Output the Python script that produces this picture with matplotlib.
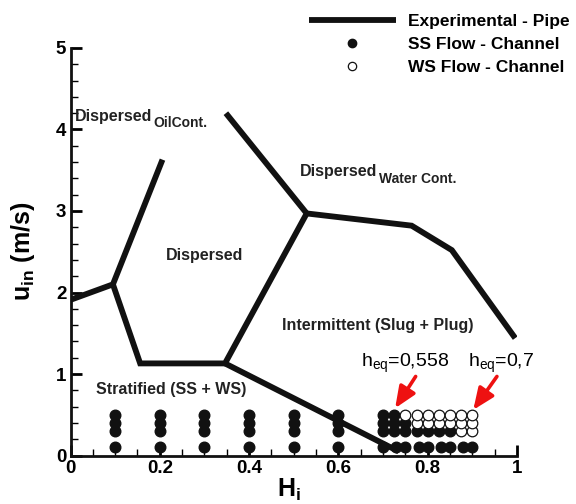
import matplotlib
matplotlib.use("Agg")
import matplotlib.pyplot as plt
from matplotlib.ticker import MultipleLocator

plt.rcParams['font.family'] = ['Liberation Sans', 'DejaVu Sans']
plt.rcParams['mathtext.fontset'] = 'custom'
plt.rcParams['mathtext.rm'] = 'Liberation Sans'
plt.rcParams['mathtext.bf'] = 'Liberation Sans:bold'
plt.rcParams['mathtext.it'] = 'Liberation Sans:italic'

# transition boundaries observed in the pipe
pipe_a_x = [0.0, 0.095, 0.206]
pipe_a_y = [1.91, 2.10, 3.63]
pipe_b_x = [0.095, 0.156, 0.346, 0.529, 0.348]
pipe_b_y = [2.10, 1.13, 1.13, 2.97, 4.20]
pipe_c_x = [0.529, 0.764, 0.854, 0.996]
pipe_c_y = [2.97, 2.82, 2.52, 1.44]
pipe_d_x = [0.346, 0.735]
pipe_d_y = [1.13, 0.05]

# channel runs: low water cut columns
low_h = [0.1, 0.2, 0.3, 0.4, 0.5, 0.6]
low_u = [0.1, 0.3, 0.4, 0.5]

# channel runs: high water cut grid
grid_h = [0.7, 0.725, 0.75, 0.775, 0.8, 0.825, 0.85, 0.875, 0.9]
row_u = [0.3, 0.4, 0.5]
n_ss_row = [7, 3, 2]          # number of SS points per row, from the left
bottom_h = [0.7, 0.73, 0.75, 0.78, 0.8, 0.83, 0.85, 0.88, 0.9]
bottom_u = 0.1

ss_h, ss_u, ws_h, ws_u = [], [], [], []
for h in low_h:
    for u in low_u:
        ss_h.append(h)
        ss_u.append(u)
for h in bottom_h:
    ss_h.append(h)
    ss_u.append(bottom_u)
for u, n in zip(row_u, n_ss_row):
    for i, h in enumerate(grid_h):
        if i < n:
            ss_h.append(h)
            ss_u.append(u)
        else:
            ws_h.append(h)
            ws_u.append(u)

fig = plt.figure(figsize=(5.76, 5.04), dpi=100)
ax = fig.add_axes([0.1224, 0.0962, 0.7752, 0.8086])

lk = dict(color='#111111', lw=4.2, solid_joinstyle='miter', solid_capstyle='butt')
l1, = ax.plot(pipe_a_x, pipe_a_y, **lk)
ax.plot(pipe_b_x, pipe_b_y, **lk)
ax.plot(pipe_c_x, pipe_c_y, **lk)
ax.plot(pipe_d_x, pipe_d_y, **lk)

ax.scatter(ss_h, ss_u, s=58, color='#111111', zorder=3)
ax.scatter(ws_h, ws_u, s=58, facecolor='white', edgecolor='#111111', lw=0.9, zorder=3)

ax.set_xlim(0, 1)
ax.set_ylim(0, 5)
ax.xaxis.set_major_locator(MultipleLocator(0.2))
ax.xaxis.set_minor_locator(MultipleLocator(0.05))
ax.yaxis.set_major_locator(MultipleLocator(1))
ax.yaxis.set_minor_locator(MultipleLocator(0.2))
ax.set_xticks([0, 0.2, 0.4, 0.6, 0.8, 1])
ax.set_xticklabels(['0', '0.2', '0.4', '0.6', '0.8', '1'])
ax.tick_params(which='major', direction='in', length=8, width=2, labelsize=13.5, pad=3)
ax.tick_params(which='minor', direction='in', length=5, width=1)
for lab in ax.get_xticklabels() + ax.get_yticklabels():
    lab.set_fontweight('bold')
for s in ['top', 'right']:
    ax.spines[s].set_visible(False)
for s in ['left', 'bottom']:
    ax.spines[s].set_linewidth(2)
    ax.spines[s].set_color('#111111')

ax.set_xlabel(r'H$_\mathbf{i}$', fontsize=18, fontweight='bold')
ax.set_ylabel(r'u$_\mathbf{in}$ (m/s)', fontsize=18, fontweight='bold')
ax.xaxis.set_label_coords(0.49, -0.052)
ax.yaxis.set_label_coords(-0.075, 0.5)

tk = dict(fontsize=11.5, fontweight='bold', color='#222222')


def label_with_sub(x, y, main, sub):
    t = ax.text(x, y, main, ha='left', va='center', **tk)
    ax.annotate(sub, xy=(1.0, 0.5), xycoords=t, xytext=(1, 0), textcoords='offset points',
                ha='left', va='top', fontsize=10, fontweight='bold', color='#222222')


label_with_sub(0.01, 4.16, 'Dispersed', 'OilCont.')
ax.text(0.301, 2.46, 'Dispersed', ha='center', va='center', **tk)
label_with_sub(0.514, 3.48, 'Dispersed', 'Water Cont.')
ax.text(0.688, 1.60, 'Intermittent (Slug + Plug)', ha='center', va='center', **tk)
ax.text(0.225, 0.81, 'Stratified (SS + WS)', ha='center', va='center', **tk)

ax.text(0.749, 1.13, r'h$_{\mathrm{eq}}$=0,558', ha='center', va='center', fontsize=14)
ax.text(0.964, 1.13, r'h$_{\mathrm{eq}}$=0,7', ha='center', va='center', fontsize=14,
        clip_on=False)
ak = dict(arrowstyle='-|>,head_length=1.3,head_width=0.55', color='#ee1111', lw=2.6,
          shrinkA=0, shrinkB=0)
ax.annotate('', xy=(0.727, 0.58), xytext=(0.773, 0.97), arrowprops=ak)
ax.annotate('', xy=(0.902, 0.56), xytext=(0.955, 0.97), arrowprops=ak, annotation_clip=False)

h_ss = plt.Line2D([], [], ls='none', marker='o', ms=6, color='#111111')
h_ws = plt.Line2D([], [], ls='none', marker='o', ms=6, mfc='white', mec='#111111', mew=0.9)
fig.legend([l1, h_ss, h_ws],
           ['Experimental - Pipe', 'SS Flow - Channel', 'WS Flow - Channel'],
           loc='upper right', bbox_to_anchor=(1.016, 1.004), frameon=False,
           handlelength=5.0, handletextpad=0.7, labelspacing=0.45,
           prop=dict(family='Liberation Sans', weight='bold', size=12.5))

fig.savefig('out.png', dpi=100)
